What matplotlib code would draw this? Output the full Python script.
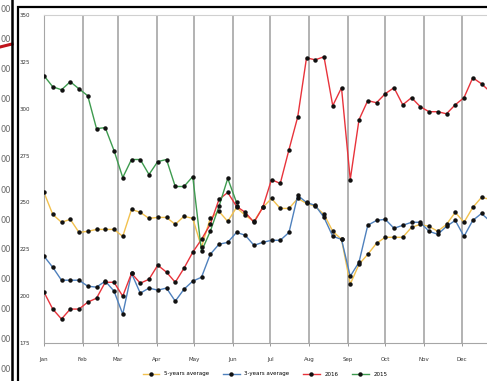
import matplotlib
matplotlib.use("Agg")
import matplotlib.pyplot as plt
from matplotlib.lines import Line2D
from matplotlib.patches import Rectangle
import numpy as np

# weekly data, day of year of each point = 7 * week
months = ["Jan", "Feb", "Mar", "Apr", "May", "Jun", "Jul", "Aug", "Sep", "Oct", "Nov", "Dec"]
month_days = [0, 31, 59, 90, 120, 151, 181, 212, 243, 273, 304, 334]
y_ticks = [175, 200, 225, 250, 275, 300, 325, 350]

avg5 = [255.3, 243.6, 239.4, 241.0, 234.0, 234.6, 235.6, 235.6, 235.6, 231.9,
        246.3, 244.7, 241.5, 242.0, 242.0, 238.3, 242.6, 241.5, 226.1, 241.5,
        245.2, 239.9, 247.3, 243.1, 239.9, 247.3, 252.1, 246.8, 246.8, 252.1,
        249.5, 247.9, 243.6, 234.6, 230.3, 206.4, 217.0, 222.3, 228.2, 231.4,
        231.4, 231.4, 236.7, 238.3, 237.2, 234.6, 238.3, 244.7, 239.4, 247.3,
        252.7, 251.6]
avg3 = [221.3, 215.4, 208.5, 208.5, 208.5, 205.3, 204.8, 208.0, 202.7, 190.4,
        212.2, 201.6, 204.3, 203.2, 204.3, 197.3, 203.7, 208.0, 210.1, 222.3,
        227.7, 228.7, 234.0, 232.5, 227.1, 228.7, 229.8, 229.8, 234.0, 253.7,
        250.0, 248.4, 242.0, 231.9, 230.3, 210.6, 218.1, 237.8, 240.4, 241.0,
        236.2, 237.8, 239.4, 239.4, 234.6, 233.0, 237.2, 240.4, 231.9, 240.4,
        244.1, 239.9]
y2016 = [202.1, 193.1, 187.8, 193.1, 193.1, 196.8, 198.9, 207.4, 207.4, 200.0,
         212.2, 206.9, 209.0, 216.5, 212.8, 207.4, 214.9, 223.4, 230.3, 238.3,
         251.6, 255.3, 247.9, 244.7, 239.4, 247.3, 262.2, 260.1, 278.2, 295.7,
         327.1, 326.1, 327.7, 301.6, 311.2, 262.2, 294.1, 304.3, 303.2, 308.0,
         311.2, 302.1, 305.9, 301.1, 298.4, 298.4, 297.3, 302.1, 305.9, 316.5,
         313.3, 309.0]
y2015 = [317.6, 311.7, 310.1, 314.4, 310.6, 306.9, 289.4, 289.9, 277.7, 263.3,
         272.9, 272.9, 264.9, 271.8, 272.9, 258.5, 258.5, 263.8, 223.9, 234.6,
         247.9, 262.8, 250.0]

series = [
    ("5-years average", avg5, "#f2c14e"),
    ("3-years average", avg3, "#4f81bd"),
    ("2016", y2016, "#e8333b"),
    ("2015", y2015, "#3e9b4f"),
]

W, H = 487, 381
fig = plt.figure(figsize=(W / 100, H / 100), dpi=100)

# left neighbour chart fragment
fig.add_artist(Line2D([0, 12 / W], [1 - 47 / H, 1 - 44 / H], color="#c0141c", lw=2.2,
                      transform=fig.transFigure))
fig.add_artist(Line2D([12 / W, 12 / W], [0, 1], color="black", lw=1.8, transform=fig.transFigure))
for yy in range(10, 381, 30):
    fig.text(11 / W, 1 - yy / H, "00", ha="right", va="center", fontsize=6, color="#666666")

# frame of this chart
fig.add_artist(Rectangle((18 / W, -0.1), 1.0, 1 - 7 / H + 0.1, fill=False, edgecolor="black",
                         lw=1.6, transform=fig.transFigure))

ax = fig.add_axes([44 / W, (H - 343) / H, 1 - 44 / W, 328 / H])
for name, vals, col in series:
    d = np.arange(len(vals)) * 7
    ax.plot(d, vals, color=col, lw=1.0, zorder=2)
    ax.plot(d, vals, ls="none", marker="o", ms=2.2, color="#111111", zorder=3)

ax.set_xlim(0, 354.4)
ax.set_ylim(175, 350)
ax.set_xticks(month_days)
ax.set_xticklabels(months, fontsize=4, color="#333333")
ax.set_yticks(y_ticks)
ax.set_yticklabels([str(v) for v in y_ticks], fontsize=4, color="#333333")
ax.tick_params(axis="both", length=2, width=0.6, colors="#888888", labelcolor="#333333", pad=8)
ax.tick_params(axis="y", length=0, pad=10)
ax.grid(axis="x", color="#a6a6a6", lw=1.2)
for s in ["right"]:
    ax.spines[s].set_visible(False)
ax.spines["top"].set_color("#d0d0d0")
ax.spines["left"].set_color("#a6a6a6")
ax.spines["bottom"].set_color("#a6a6a6")

handles = []
for name, vals, col in series:
    handles.append(Line2D([0], [0], color=col, lw=1.0, marker="o", ms=2.2,
                          markerfacecolor="#111111", markeredgecolor="#111111"))
fig.legend(handles, [s[0] for s in series], loc="center", bbox_to_anchor=(265 / W, 1 - 374 / H),
           ncol=4, fontsize=4, frameon=False, handlelength=3, columnspacing=2.5)

fig.savefig("out.png", dpi=100)
